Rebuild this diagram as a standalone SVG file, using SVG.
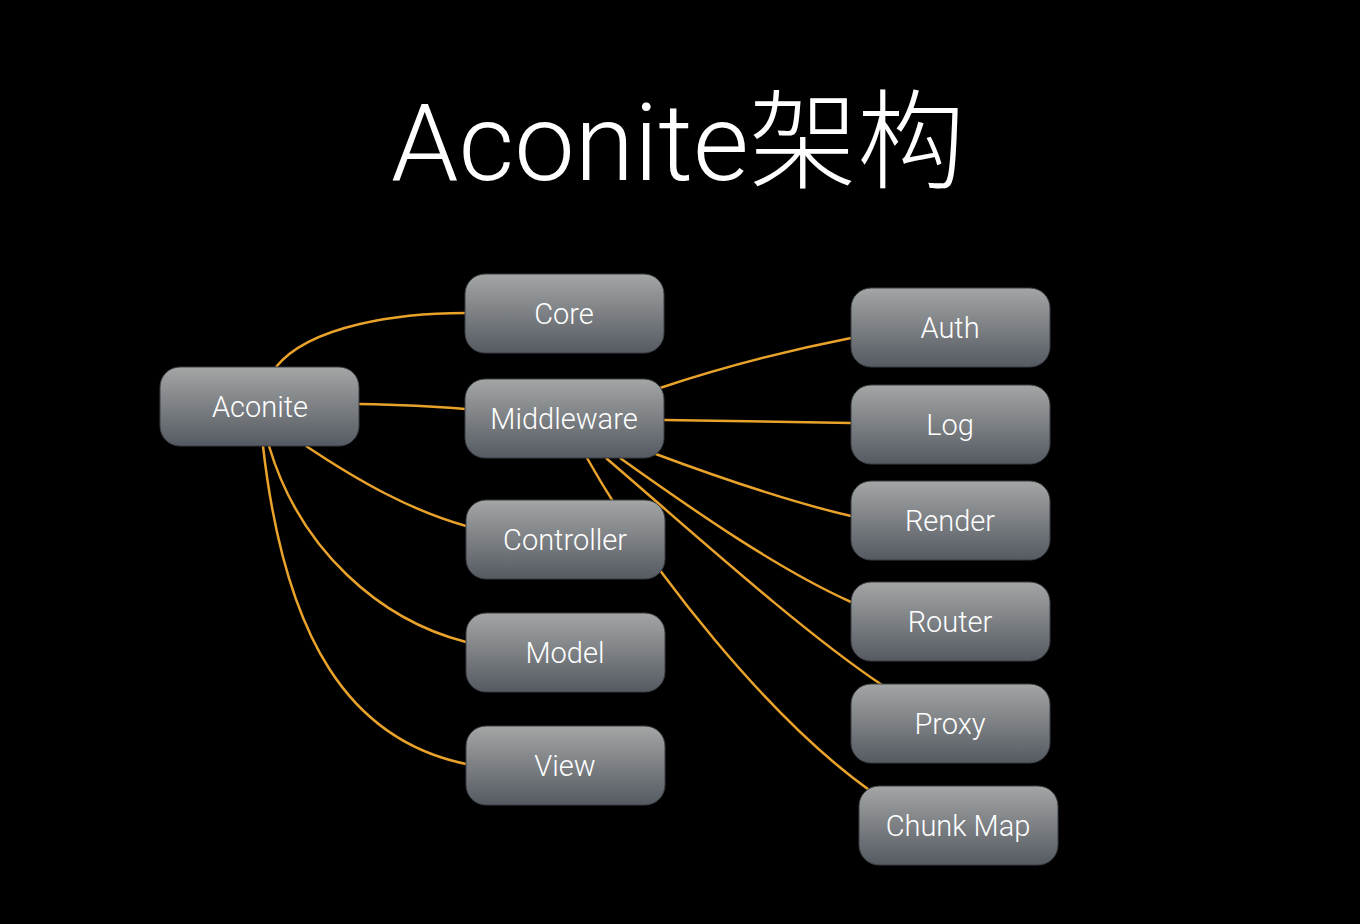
<svg xmlns="http://www.w3.org/2000/svg" width="1360" height="924" viewBox="0 0 1360 924">
<defs>
<linearGradient id="g" x1="0" y1="0" x2="0" y2="1">
<stop offset="0" stop-color="#a3a6a5"/>
<stop offset="1" stop-color="#555a62"/>
</linearGradient>
<style>
.n rect{fill:url(#g);stroke:#3a3d42;stroke-width:1}
.n text{font-family:Roboto,"Liberation Sans",sans-serif;font-weight:300;font-size:29px;fill:#fff;text-anchor:middle}
.c path{fill:none;stroke:#e9a32b;stroke-width:2.5}
.t{font-family:Roboto,"Noto Sans CJK SC",sans-serif;font-weight:300;font-size:108px;fill:#fff;text-anchor:middle}
</style>
</defs>
<rect width="1360" height="924" fill="#000"/>
<text class="t" x="678" y="180">Aconite<tspan font-family="'Noto Sans CJK SC',sans-serif" font-weight="300">架构</tspan></text>
<g id="connectors" class="c">
<path d="M276,367 C310,325 400,313 465,313"/>
<path d="M359,404 Q420,405 465,409"/>
<path d="M306,446 C360,482 410,510 466,526"/>
<path d="M269,446 C300,550 380,620 466,642"/>
<path d="M263,446 C285,640 350,740 466,764"/>
<path d="M660,388 C720,368 790,350 851,338"/>
<path d="M664,420 L851,423"/>
<path d="M653,453 C720,478 790,502 851,516"/>
<path d="M620,458 C700,515 780,570 851,602"/>
<path d="M606,458 C690,530 800,630 882,685"/>
<path d="M587,458 C650,570 770,720 872,792"/>
</g>
<g id="aconite" class="n"><rect x="160" y="367" width="199" height="79" rx="20"/><text x="260" y="417">Aconite</text></g>
<g id="core" class="n"><rect x="465" y="274" width="199" height="79" rx="20"/><text x="564" y="324">Core</text></g>
<g id="middleware" class="n"><rect x="465" y="379" width="199" height="79" rx="20"/><text x="564" y="429">Middleware</text></g>
<g id="controller" class="n"><rect x="466" y="500" width="199" height="79" rx="20"/><text x="565" y="550">Controller</text></g>
<g id="model" class="n"><rect x="466" y="613" width="199" height="79" rx="20"/><text x="565" y="663">Model</text></g>
<g id="view" class="n"><rect x="466" y="726" width="199" height="79" rx="20"/><text x="565" y="776">View</text></g>
<g id="auth" class="n"><rect x="851" y="288" width="199" height="79" rx="20"/><text x="950" y="338">Auth</text></g>
<g id="log" class="n"><rect x="851" y="385" width="199" height="79" rx="20"/><text x="950" y="435">Log</text></g>
<g id="render" class="n"><rect x="851" y="481" width="199" height="79" rx="20"/><text x="950" y="531">Render</text></g>
<g id="router" class="n"><rect x="851" y="582" width="199" height="79" rx="20"/><text x="950" y="632">Router</text></g>
<g id="proxy" class="n"><rect x="851" y="684" width="199" height="79" rx="20"/><text x="950" y="734">Proxy</text></g>
<g id="chunkmap" class="n"><rect x="859" y="786" width="199" height="79" rx="20"/><text x="958" y="836">Chunk Map</text></g>
</svg>
